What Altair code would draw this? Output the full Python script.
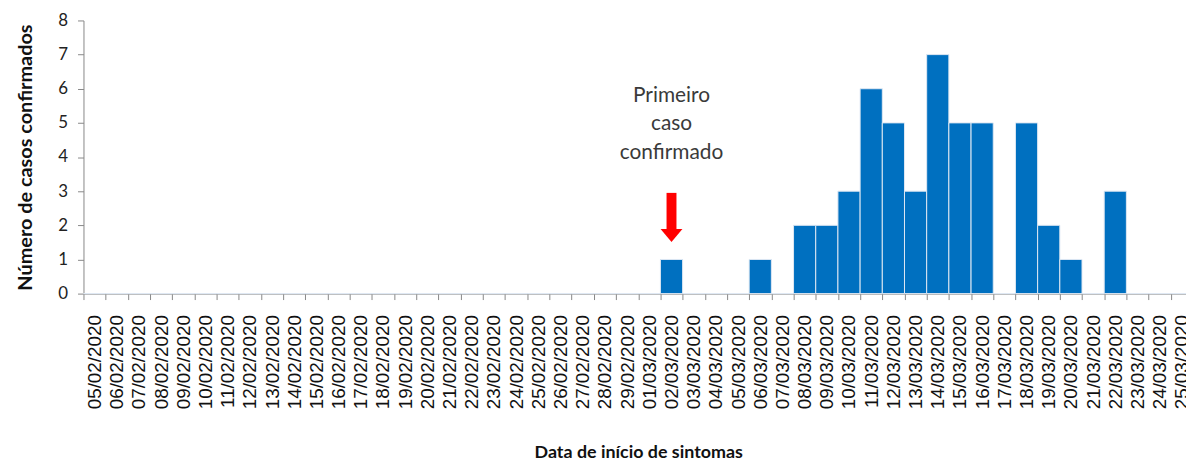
import altair as alt
import pandas as pd

dates = [f"{d:02d}/02/2020" for d in range(5, 30)] + [f"{d:02d}/03/2020" for d in range(1, 26)]
case_dates = ["02/03/2020", "06/03/2020", "08/03/2020", "09/03/2020", "10/03/2020",
              "11/03/2020", "12/03/2020", "13/03/2020", "14/03/2020", "15/03/2020",
              "16/03/2020", "18/03/2020", "19/03/2020", "20/03/2020", "22/03/2020"]
case_counts = [1, 1, 2, 2, 3, 6, 5, 3, 7, 5, 5, 5, 2, 1, 3]
y_ticks = [0, 1, 2, 3, 4, 5, 6, 7, 8]
first_case_date = "02/03/2020"
annotation = ["Primeiro", "caso", "confirmado"]

counts = dict(zip(case_dates, case_counts))
df = pd.DataFrame({"data": dates, "casos": [counts.get(d, 0) for d in dates]})

x_scale = alt.Scale(domain=dates, paddingInner=0, paddingOuter=0)
y_scale = alt.Scale(domain=[0, 8], nice=False)

x_axis = alt.Axis(
    title="Data de início de sintomas",
    labelAngle=-90, labelFont="Liberation Sans", labelFontSize=19, labelColor="#111111",
    labelPadding=15, tickSize=6, tickBand="extent", tickColor="#888888",
    domainColor="#888888", labelOverlap=False,
    titleFont="Lato", titleFontSize=18, titleFontWeight="bold", titleColor="#111111",
    titlePadding=35,
)
y_axis = alt.Axis(
    title="Número de casos confirmados", values=y_ticks, grid=False,
    labelOverlap=False,
    labelFont="Lato", labelFontSize=17, labelColor="#222222", labelPadding=10,
    tickSize=6, tickColor="#888888", domainColor="#888888",
    titleFont="Lato", titleFontSize=20, titleFontWeight="bold", titleColor="#111111",
    titlePadding=22,
)

X = alt.X("data:N", scale=x_scale, axis=x_axis, sort=dates)
Y = alt.Y("casos:Q", scale=y_scale, axis=y_axis)

bars = alt.Chart(df).mark_bar(color="#0070C0", stroke="#dfe8f3", strokeWidth=1).encode(x=X, y=Y)

shaft_df = pd.DataFrame({"data": [first_case_date], "casos": [2.95], "fim": [1.85]})
head_df = pd.DataFrame({"data": [first_case_date], "casos": [1.70]})
text_df = pd.DataFrame({"data": [first_case_date], "casos": [5.8], "label": ["\n".join(annotation)]})

shaft = alt.Chart(shaft_df).mark_rule(color="#ff0000", strokeWidth=10).encode(x=X, y=Y, y2="fim:Q")
head = alt.Chart(head_df).mark_point(
    shape="M-1,-0.6L1,-0.6L0,0.6Z", filled=True, color="#ff0000", size=484, opacity=1
).encode(x=X, y=Y)
text = alt.Chart(text_df).mark_text(
    font="Lato", fontSize=21, color="#3a3a3a", lineBreak="\n", lineHeight=29,
    align="center", baseline="middle",
).encode(x=X, y=Y, text="label:N")

chart = alt.layer(bars, shaft, head, text).properties(
    width=1117, height=275,
    autosize=alt.AutoSizeParams(type="none"),
    padding={"left": 76, "top": 11, "right": -7, "bottom": 169},
).configure_view(stroke=None)

chart.save("out.html", embed_options={"renderer": "svg", "actions": False})
